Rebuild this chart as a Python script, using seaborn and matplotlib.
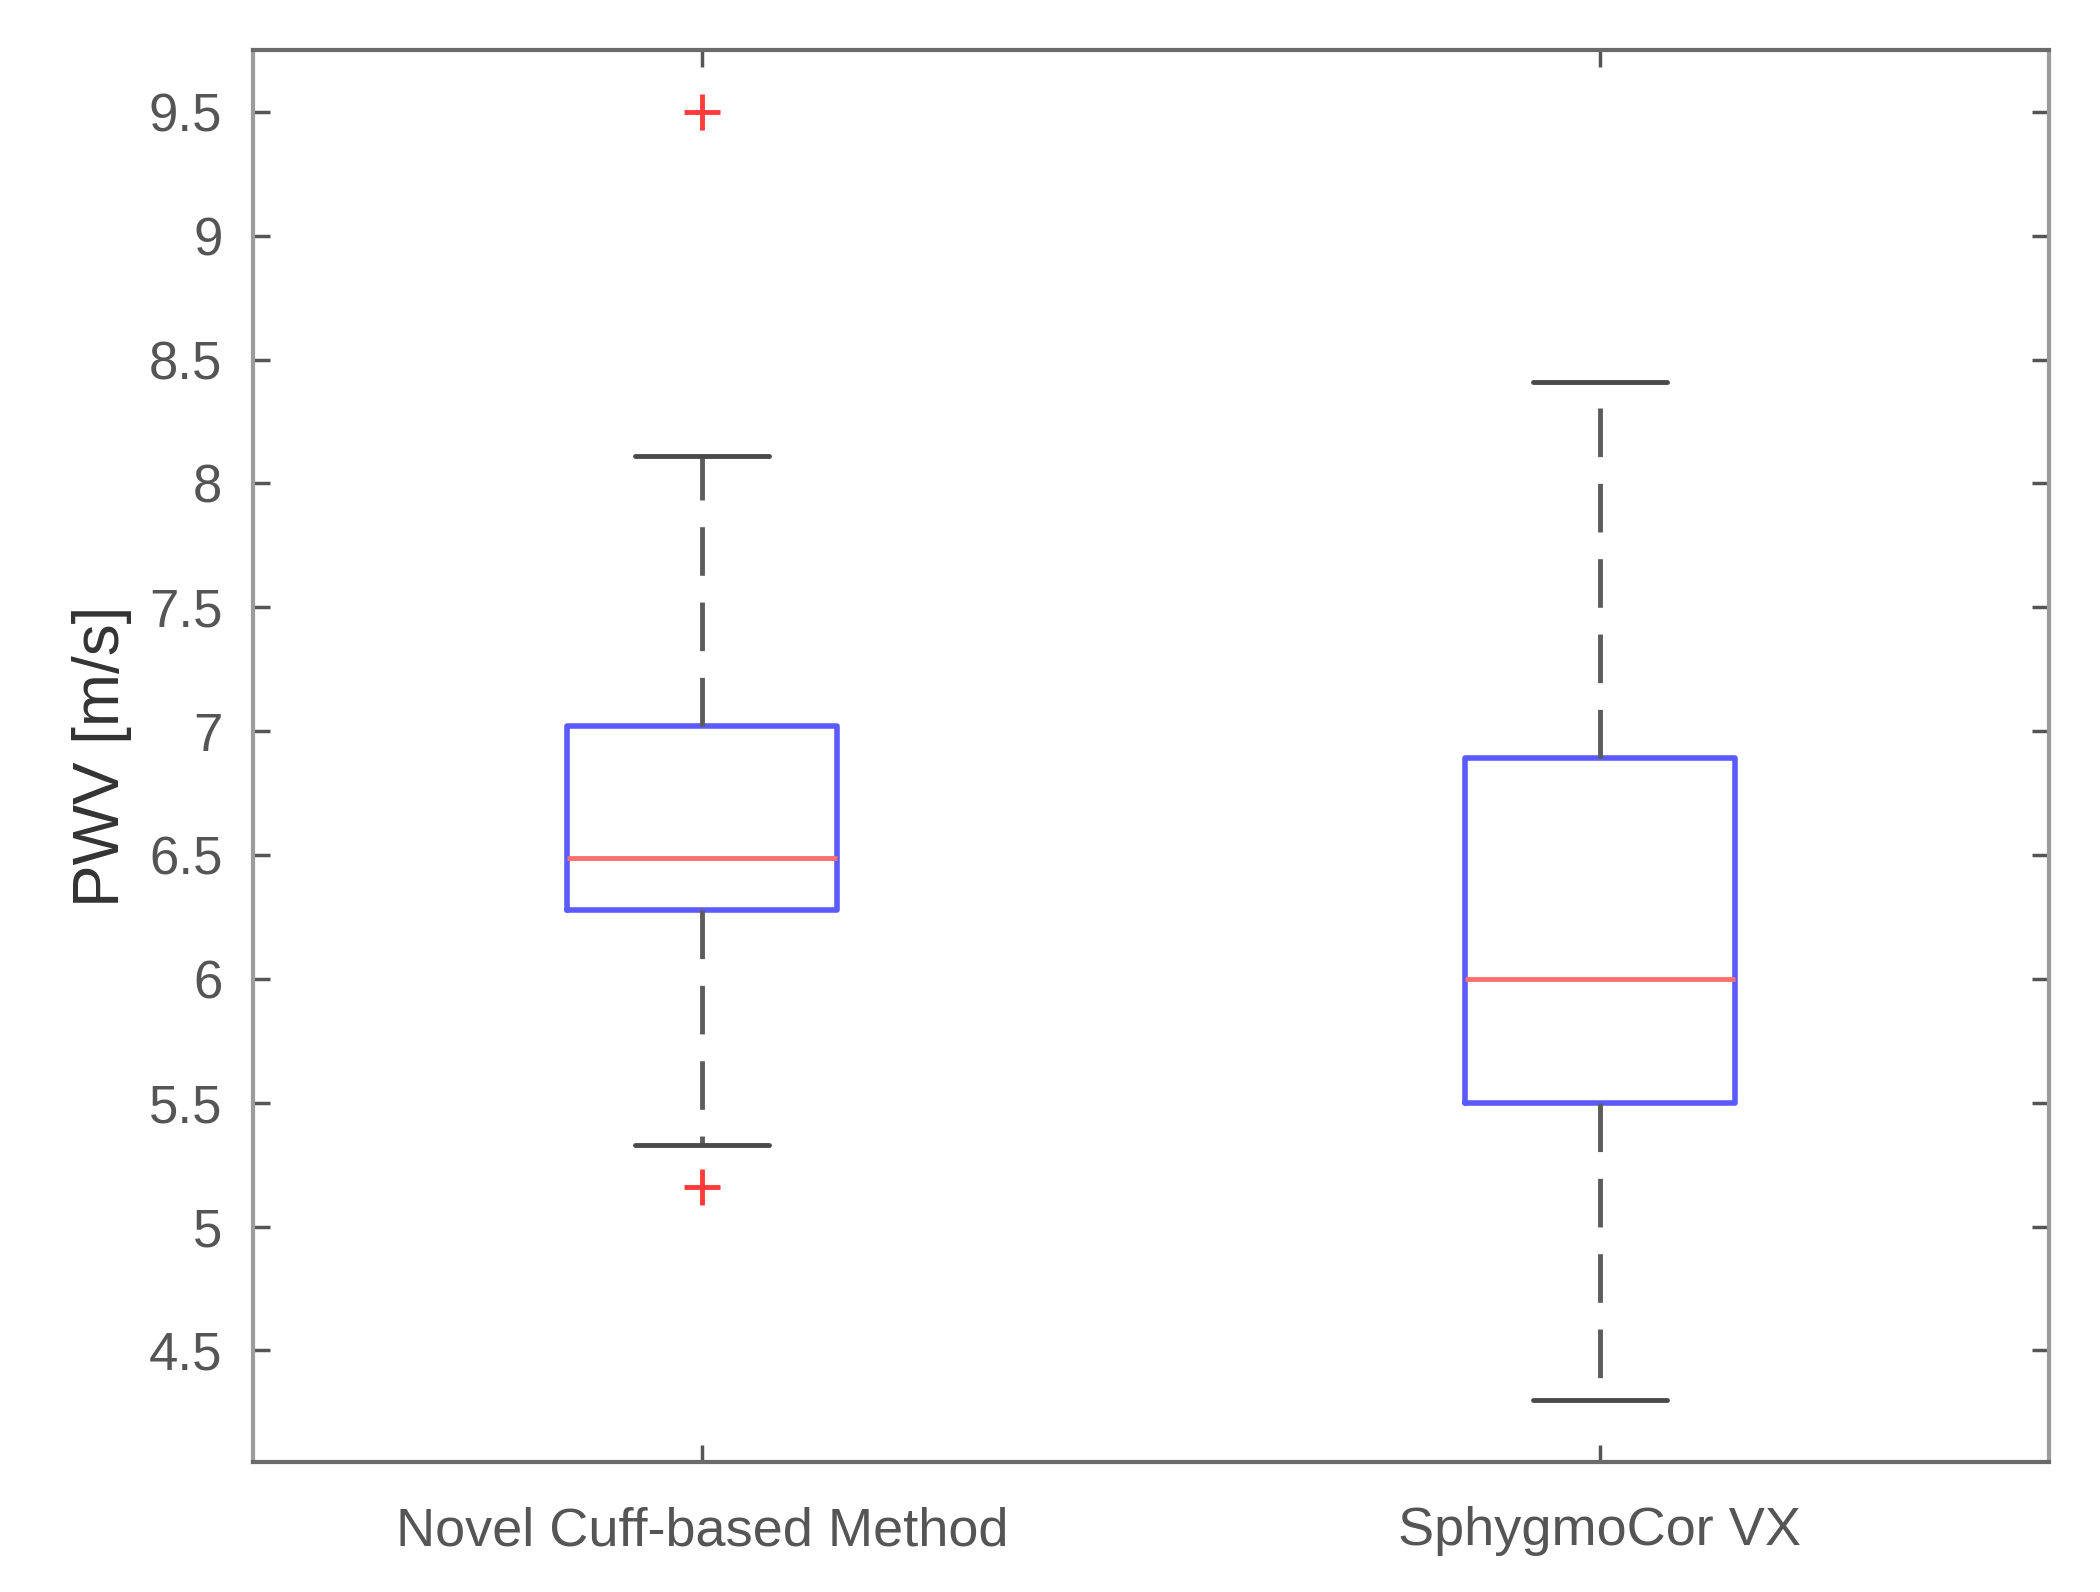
import pandas as pd
import matplotlib
matplotlib.use('Agg')
import matplotlib.pyplot as plt
import seaborn as sns

# values (9 points each so quartiles land on data)
methods = ['Novel Cuff-based Method', 'SphygmoCor VX']
novel_pwv = [5.16, 5.33, 6.28, 6.40, 6.49, 6.75, 7.02, 8.11, 9.50]
sphygmo_pwv = [4.30, 5.20, 5.50, 5.80, 6.00, 6.50, 6.89, 7.60, 8.41]
yticks = [4.5, 5, 5.5, 6, 6.5, 7, 7.5, 8, 8.5, 9, 9.5]
ytick_labels = ['4.5', '5', '5.5', '6', '6.5', '7', '7.5', '8', '8.5', '9', '9.5']

df = pd.DataFrame({
    'method': [methods[0]] * len(novel_pwv) + [methods[1]] * len(sphygmo_pwv),
    'pwv': novel_pwv + sphygmo_pwv,
})

sns.set_style('white')
plt.rcParams['font.family'] = ['Liberation Sans', 'DejaVu Sans']

fig = plt.figure(figsize=(21, 15.92), dpi=100)
ax = fig.add_axes([0.1205, 0.0817, 0.8552, 0.8869])

sns.boxplot(data=df, x='method', y='pwv', order=methods, ax=ax,
            width=0.3, whis=1.5, fill=False, linewidth=3.5,
            boxprops=dict(color='#5a5aff', linewidth=4),
            medianprops=dict(color='#ff6f6f', linewidth=3.5),
            whiskerprops=dict(color='#5c5c5c', linewidth=3.5, linestyle=(0, (10, 5.5))),
            capprops=dict(color='#4a4a4a', linewidth=3.5),
            flierprops=dict(marker='+', markeredgecolor='#ff3a3a', markersize=26,
                            markeredgewidth=3.5))

ax.set_xlim(-0.5, 1.5)
ax.set_ylim(4.05, 9.75)
ax.set_yticks(yticks)
ax.set_yticklabels(ytick_labels)
ax.set_xlabel('')
ax.set_ylabel('PWV [m/s]', fontsize=46, color='#333333', labelpad=12)

ax.tick_params(axis='y', direction='in', length=12, width=2.5, color='#555555',
               labelsize=38, labelcolor='#555555', pad=22, left=True, right=True)
ax.tick_params(axis='x', direction='in', length=12, width=2.5, color='#555555',
               labelsize=39, labelcolor='#555555', pad=32, bottom=True, top=True)

for side in ['top', 'bottom']:
    ax.spines[side].set_color('#6a6a6a')
    ax.spines[side].set_linewidth(3)
for side in ['left', 'right']:
    ax.spines[side].set_color('#9c9c9c')
    ax.spines[side].set_linewidth(3)

fig.savefig('out.png', dpi=100)
